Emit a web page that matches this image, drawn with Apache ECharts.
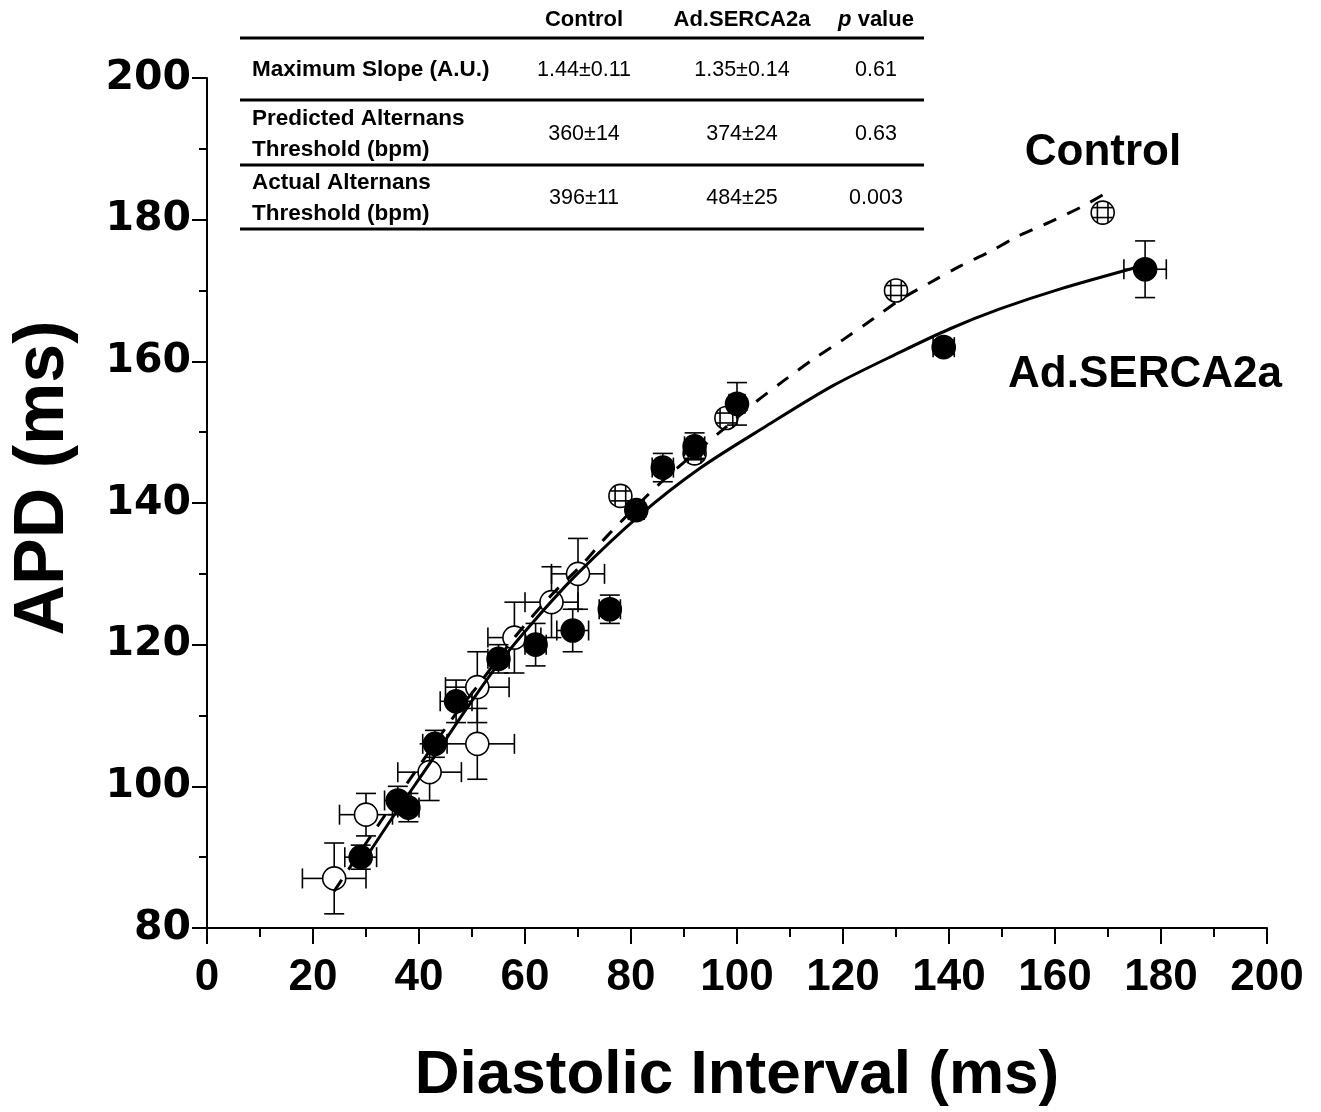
<!DOCTYPE html>
<html>
<head>
<meta charset="utf-8">
<script src="https://cdn.jsdelivr.net/npm/echarts@6/dist/echarts.min.js"></script>
<style>
html,body{margin:0;padding:0;background:#fff;}
#chart{width:1321px;height:1112px;}
</style>
</head>
<body>
<div id="chart"></div>
<script>
// ---------- data ----------
// Control (open circles)
const controlX    = [24, 30, 42, 51, 51, 58, 65, 70, 78, 92, 98, 130, 169];
const controlY    = [87, 96, 102, 106, 114, 121, 126, 130, 141, 147, 152, 170, 181];
const controlXErr = [6, 5, 6, 7, 6, 5, 5, 5, 1, 1.2, 1.2, 1, 1];
const controlYErr = [5, 3, 4, 5, 5, 5, 5, 5, 0.7, 0.7, 0.7, 0.7, 0.7];
// Ad.SERCA2a (filled circles)
const adX    = [29, 36, 38, 43, 47, 55, 62, 69, 76, 81, 86, 92, 100, 139, 177];
const adY    = [90, 98, 97, 106, 112, 118, 120, 122, 125, 139, 145, 148, 154, 162, 173];
const adXErr = [3, 2.5, 2, 2.3, 3, 2, 2, 3, 2, 1.5, 2, 1.9, 1.5, 2, 4];
const adYErr = [1.7, 2, 2, 1.9, 3, 2, 3, 3, 2, 1, 2, 1.9, 3, 1, 4];
// fitted restitution curves
const controlFitX = [24, 32, 39.6, 46.8, 51.5, 58, 65, 71, 75.7, 85.8, 97.4, 103.1, 108.7, 114.4, 120.1, 125.7, 131, 136.4, 142, 148, 153.1, 159.1, 165, 169];
const controlFitY = [85.2, 94.2, 102.4, 110.1, 114.6, 121, 127, 131.5, 135.5, 143, 150.4, 154.0, 157.2, 160.3, 163.1, 166, 168.8, 171.1, 173.4, 175.6, 177.7, 179.7, 181.8, 183.5];
const adFitX = [29, 35, 42, 49, 55, 62, 70, 81.7, 93, 105.6, 118.2, 130.8, 140.2, 149.6, 160.9, 177];
const adFitY = [88.8, 95.6, 103.2, 111.0, 117.3, 123.6, 130.1, 138.3, 144.9, 150.9, 156.6, 161.3, 164.6, 167.4, 170.2, 173.6];
// axes
const xMin = 0, xMax = 200, xStep = 20;
const yMin = 80, yMax = 200, yStep = 20;
const xTitle = 'Diastolic Interval (ms)';
const yTitle = 'APD (ms)';
// table
const tableHeaders = ['Control', 'Ad.SERCA2a', '{i|p} value'];
const rowLabels = [['Maximum Slope (A.U.)'], ['Predicted Alternans', 'Threshold (bpm)'], ['Actual Alternans', 'Threshold (bpm)']];
const controlVals = ['1.44±0.11', '360±14', '396±11'];
const sercaVals = ['1.35±0.14', '374±24', '484±25'];
const pVals = ['0.61', '0.63', '0.003'];
const seriesLabels = ['Control', 'Ad.SERCA2a'];

// ---------- build ----------
const R = 11.5, CAP = 10;
function zip(xs, ys) { return xs.map((x, i) => [x, ys[i]]); }
function zip4(xs, ys, ex, ey) { return xs.map((x, i) => [x, ys[i], ex[i], ey[i]]); }

function renderErr(params, api) {
  const x = api.value(0), y = api.value(1), ex = api.value(2), ey = api.value(3);
  const c = api.coord([x, y]);
  const top = api.coord([x, y + ey])[1];
  const bot = api.coord([x, y - ey])[1];
  const left = api.coord([x - ex, y])[0];
  const right = api.coord([x + ex, y])[0];
  const st = { stroke: '#000', lineWidth: 1.6, fill: null };
  const L = (x1, y1, x2, y2) => ({ type: 'line', shape: { x1, y1, x2, y2 }, style: st });
  const ch = [];
  if (c[1] - top > R) ch.push(L(c[0], c[1] - R, c[0], top));
  if (bot - c[1] > R) ch.push(L(c[0], c[1] + R, c[0], bot));
  if (c[0] - left > R) ch.push(L(c[0] - R, c[1], left, c[1]));
  if (right - c[0] > R) ch.push(L(c[0] + R, c[1], right, c[1]));
  ch.push(L(c[0] - CAP, top, c[0] + CAP, top));
  ch.push(L(c[0] - CAP, bot, c[0] + CAP, bot));
  ch.push(L(left, c[1] - CAP, left, c[1] + CAP));
  ch.push(L(right, c[1] - CAP, right, c[1] + CAP));
  return { type: 'group', children: ch };
}

// table graphics
const colCenters = [584, 742, 876];
const rowCenters = [70, 134, 198];
const ruleYs = [38, 100, 165, 229];
const tFont = '"Liberation Sans", Arial, sans-serif';
const graphics = [];
ruleYs.forEach(y => graphics.push({ type: 'line', shape: { x1: 240, y1: y, x2: 924, y2: y }, style: { stroke: '#000', lineWidth: 3 } }));
tableHeaders.forEach((h, i) => graphics.push({
  type: 'text', x: colCenters[i], y: 20,
  style: { text: h, fill: '#000', font: 'bold 22px ' + tFont, align: 'center', verticalAlign: 'middle',
    rich: { i: { fontStyle: 'italic', fontWeight: 'bold', fontSize: 22, fontFamily: 'Liberation Sans' } } }
}));
rowLabels.forEach((lines, r) => {
  const n = lines.length;
  lines.forEach((t, k) => graphics.push({
    type: 'text', x: 252, y: rowCenters[r] + (n === 1 ? 0 : (k === 0 ? -15 : 16)),
    style: { text: t, fill: '#000', font: 'bold 22.5px ' + tFont, align: 'left', verticalAlign: 'middle' }
  }));
  [controlVals[r], sercaVals[r], pVals[r]].forEach((v, i) => graphics.push({
    type: 'text', x: colCenters[i], y: rowCenters[r],
    style: { text: v, fill: '#000', font: '21.5px ' + tFont, align: 'center', verticalAlign: 'middle' }
  }));
});
graphics.push({ type: 'text', x: 1103, y: 153, style: { text: seriesLabels[0], fill: '#000', font: 'bold 44px ' + tFont, align: 'center', verticalAlign: 'middle' } });
graphics.push({ type: 'text', x: 1145, y: 375, style: { text: seriesLabels[1], fill: '#000', font: 'bold 44px ' + tFont, align: 'center', verticalAlign: 'middle' } });
// y-axis title (rotated, slightly above centre as in the figure)
graphics.push({ type: 'text', x: 44, y: 478, rotation: Math.PI / 2,
  style: { text: yTitle, fill: '#000', font: 'bold 70px ' + tFont, align: 'center', verticalAlign: 'middle' } });

const axisLine = { show: true, lineStyle: { color: '#000', width: 2 } };
const option = {
  animation: false,
  backgroundColor: '#fff',
  grid: { left: 207, right: 54, top: 78, bottom: 181, containLabel: false },
  xAxis: {
    type: 'value', min: xMin, max: xMax, interval: xStep,
    name: xTitle, nameLocation: 'middle', nameGap: 117,
    nameTextStyle: { color: '#000', fontFamily: 'Liberation Sans', fontWeight: 'bold', fontSize: 62 },
    axisLine: axisLine,
    axisTick: { show: true, inside: false, length: 16, lineStyle: { color: '#000', width: 2 } },
    minorTick: { show: true, splitNumber: 2, length: 9, lineStyle: { color: '#000', width: 2 } },
    axisLabel: { color: '#000', fontFamily: 'Liberation Sans', fontWeight: 'bold', fontSize: 44, margin: 28 },
    splitLine: { show: false }
  },
  yAxis: {
    type: 'value', min: yMin, max: yMax, interval: yStep,
    axisLine: axisLine,
    axisTick: { show: true, inside: false, length: 15, lineStyle: { color: '#000', width: 2 } },
    minorTick: { show: true, splitNumber: 2, length: 8, lineStyle: { color: '#000', width: 2 } },
    axisLabel: { color: '#000', fontFamily: 'DejaVu Sans', fontWeight: 'bold', fontSize: 41, margin: 16 },
    splitLine: { show: false }
  },
  graphic: graphics,
  series: [
    { name: 'Control', type: 'scatter', data: zip(controlX, controlY), symbol: 'circle', symbolSize: 2 * R, z: 2,
      itemStyle: { color: '#fff', borderColor: '#000', borderWidth: 1.6, opacity: 1 } },
    { name: 'Ad.SERCA2a', type: 'scatter', data: zip(adX, adY), symbol: 'circle', symbolSize: 2 * R, z: 2,
      itemStyle: { color: '#000', borderColor: '#000', borderWidth: 1.6, opacity: 1 } },
    { name: 'Control err', type: 'custom', data: zip4(controlX, controlY, controlXErr, controlYErr), renderItem: renderErr, z: 3, silent: true },
    { name: 'Ad err', type: 'custom', data: zip4(adX, adY, adXErr, adYErr), renderItem: renderErr, z: 3, silent: true },
    { name: 'Control fit', type: 'line', data: zip(controlFitX, controlFitY), showSymbol: false, smooth: 0.3, z: 4,
      lineStyle: { color: '#000', width: 3, type: [14, 12] } },
    { name: 'Ad fit', type: 'line', data: zip(adFitX, adFitY), showSymbol: false, smooth: 0.3, z: 4,
      lineStyle: { color: '#000', width: 3, type: 'solid' } }
  ]
};
const chart = echarts.init(document.getElementById('chart'), null, { renderer: 'canvas' });
chart.setOption(option);
</script>
</body>
</html>
